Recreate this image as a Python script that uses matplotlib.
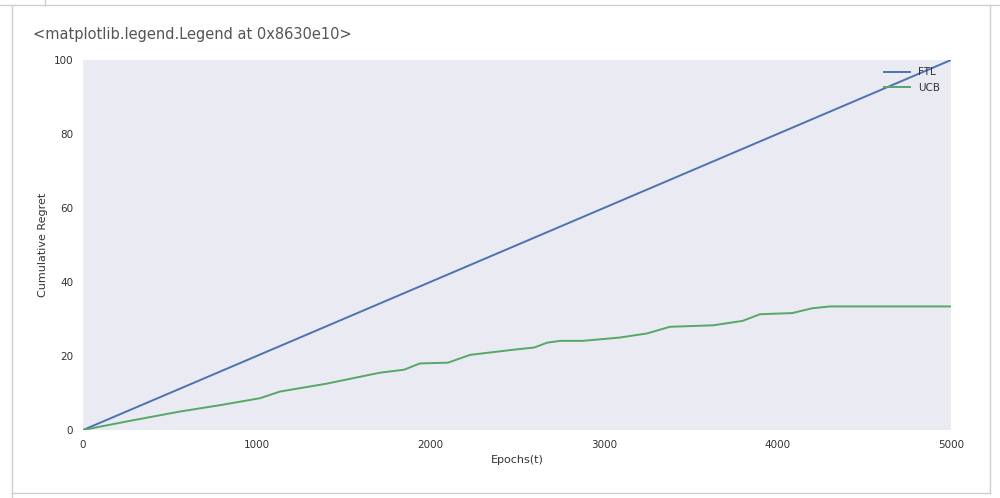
import numpy as np
import matplotlib.pyplot as plt
from matplotlib.lines import Line2D

# FTL grows linearly, UCB flattens out
ftl_epochs = [0, 5000]
ftl_regret = [0, 100]

ucb_epochs = [0, 250, 559, 800, 1020, 1135, 1400, 1711, 1850, 1941, 2102, 2229,
              2460, 2600, 2673, 2748, 2880, 3093, 3249, 3381, 3630, 3800, 3900,
              4085, 4200, 4303, 5000]
ucb_regret = [0, 2.3, 5.0, 6.8, 8.6, 10.4, 12.5, 15.5, 16.3, 18.0, 18.2, 20.3,
              21.6, 22.3, 23.6, 24.1, 24.1, 25.0, 26.1, 27.9, 28.3, 29.5, 31.3,
              31.6, 32.9, 33.4, 33.4]

labels = ["FTL", "UCB"]
colors = ["#4C72B0", "#55A868"]

fig = plt.figure(figsize=(10, 4.98), dpi=100)
fig.patch.set_facecolor("white")

# notebook output frame
frame = "#cfcfcf"
fig.add_artist(Line2D([0.0, 1.0], [0.99, 0.99], color=frame, lw=1.0))
fig.add_artist(Line2D([0.012, 0.012], [0.0, 0.99], color=frame, lw=1.0))
fig.add_artist(Line2D([0.99, 0.99], [0.01, 0.99], color=frame, lw=1.0))
fig.add_artist(Line2D([0.012, 0.99], [0.01, 0.01], color=frame, lw=1.0))
fig.add_artist(Line2D([0.045, 0.045], [0.99, 1.0], color=frame, lw=1.0))

fig.text(0.033, 0.93, "<matplotlib.legend.Legend at 0x8630e10>",
         fontsize=10.5, color="#555555", va="center", ha="left")

ax = fig.add_axes([0.083, 0.1365, 0.868, 0.743])
ax.set_facecolor("#EAEAF2")
for s in ax.spines.values():
    s.set_visible(False)

ax.plot(ftl_epochs, ftl_regret, color=colors[0], lw=1.4, label=labels[0])
ax.plot(ucb_epochs, ucb_regret, color=colors[1], lw=1.4, label=labels[1])

ax.set_xlim(0, 5000)
ax.set_ylim(0, 100)
ax.set_xticks([0, 1000, 2000, 3000, 4000, 5000])
ax.set_yticks([0, 20, 40, 60, 80, 100])
ax.tick_params(length=0, labelsize=7.5, labelcolor="#333333", pad=7)
ax.set_xlabel("Epochs(t)", fontsize=8, color="#333333", labelpad=4)
ax.set_ylabel("Cumulative Regret", fontsize=8, color="#333333", labelpad=4)

leg = ax.legend(loc="upper right", frameon=False, fontsize=7.5,
                handlelength=2.5, borderaxespad=0.3, labelspacing=0.5,
                bbox_to_anchor=(0.996, 1.0))
for t in leg.get_texts():
    t.set_color("#333333")

fig.savefig("out.png", dpi=100)
